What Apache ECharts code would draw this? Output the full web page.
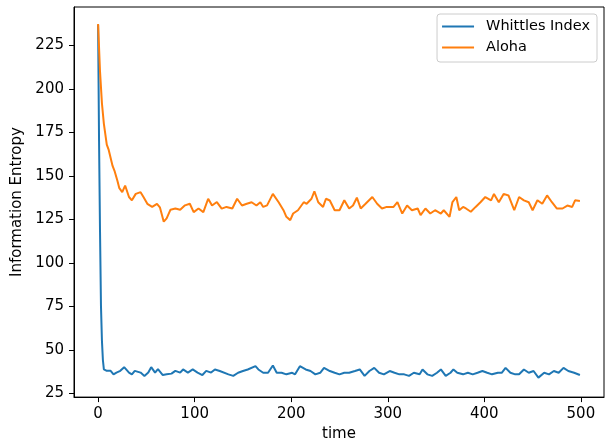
<!DOCTYPE html>
<html>
<head>
<meta charset="utf-8">
<script src="https://cdn.jsdelivr.net/npm/echarts@6/dist/echarts.min.js"></script>
<style>
html,body{margin:0;padding:0;background:#fff;}
#chart{width:611px;height:447px;}
</style>
</head>
<body>
<div id="chart"></div>
<script>
var xTicks = [0, 100, 200, 300, 400, 500];
var yTicks = [25, 50, 75, 100, 125, 150, 175, 200, 225];
var seriesNames = ["Whittles Index", "Aloha"];

var whittlesTime = [0,1,2,3,4,5,6,9,13,16,19,23,27,32,35,38,44,48,52,55,59,62,67,71,76,80,85,88,93,98,103,108,112,117,121,126,135,140,145,150,155,163,166,171,176,181,185,190,195,201,204,209,215,220,225,230,234,240,245,250,255,260,266,271,276,281,286,291,296,302,307,312,317,322,327,333,336,341,346,351,355,360,365,368,372,378,383,388,393,398,403,408,414,418,422,427,432,436,441,446,451,456,462,467,472,477,482,487,493,499];
var whittlesValue = [237,170,118,75,55,44,38.7,37.9,37.9,35.9,36.9,37.9,40,36.9,35.9,37.9,36.9,35,36.9,40,36.9,38.9,35.5,35.9,36.3,37.9,36.9,38.7,36.9,38.7,36.9,35.5,37.9,36.9,38.7,37.8,35.9,35,36.8,37.8,38.7,40.6,38.7,36.8,36.8,41,36.8,36.8,35.9,36.8,35.9,40.6,38.7,37.8,35.9,36.8,39.6,37.8,36.8,35.9,36.8,36.8,37.8,38.7,35,37.8,39.6,36.8,35.9,37.8,36.8,35.9,35.9,35,36.8,35.9,38.7,35.9,35,36.8,38.7,35,36.8,38.7,36.8,35.9,36.8,35.9,36.8,37.8,36.8,35.9,36.8,36.8,39.6,36.8,35.9,35.9,38.7,36.8,37.8,34,36.8,35.9,37.8,36.8,39.6,37.8,36.8,35.5];

var alohaTime = [0,2,4,6,9,11,15,17,20,22,25,28,32,35,39,44,47,51,56,61,64,68,71,75,80,85,90,95,99,104,109,111,114,116,118,120,123,128,133,139,144,149,154,159,164,168,171,175,181,187,192,195,199,202,207,213,216,221,224,228,233,236,240,245,250,255,260,264,268,272,277,284,289,294,299,306,310,315,320,325,331,334,339,344,349,355,358,364,367,371,374,378,381,386,391,396,401,407,410,415,420,425,431,436,441,446,450,455,460,465,470,475,481,486,491,494,499];
var alohaValue = [237.4,210,191.7,180,168,165,155.8,153,147.3,143,140.7,144.5,137.9,136,139.7,140.7,137.9,134,132.2,134,132,123.7,125.6,130.6,131.3,130.6,133.1,134,129.2,131.3,129.2,130.3,136.9,136.9,133,132.7,135,131.2,132.2,131.3,136.9,133,134,134.9,133,134.9,132.2,133.1,139.7,134.9,130.3,126.5,124.6,128.4,130.3,134.9,134,136.9,141.2,134.9,132.2,136.9,135.9,130.3,130.3,136,131.3,133,137.5,131.3,134,137.9,134,131.3,132.2,132.2,134.9,128.4,133,130.3,131.3,127.5,131.3,128.4,130.3,128.4,130.3,126.5,135,137.9,130.3,132.2,131.3,129.4,132.2,134.9,137.9,136,139.7,134.9,139.7,138.8,130.3,137.9,136,134.9,130.3,136,134,138.8,134.9,131.3,131.3,133,132.2,136,135.6];

function pairs(t, v) {
  var out = [];
  for (var i = 0; i < t.length; i++) out.push([t[i], v[i]]);
  return out;
}

var font = 'DejaVu Sans';
var fs = 15;
var chart = echarts.init(document.getElementById('chart'), null, {renderer: 'canvas'});
chart.setOption({
  animation: false,
  backgroundColor: '#ffffff',
  grid: {left: 74, right: 7, top: 7, bottom: 41, show: true, borderColor: '#000', borderWidth: 1, backgroundColor: 'transparent'},
  legend: {
    orient: 'vertical', right: 14, top: 14,
    data: seriesNames,
    icon: 'rect',
    itemWidth: 32, itemHeight: 2, itemGap: 6,
    padding: [5, 7, 7, 5],
    borderColor: '#cccccc', borderWidth: 1, borderRadius: 3,
    backgroundColor: 'rgba(255,255,255,0.8)',
    textStyle: {fontFamily: font, fontSize: 14.5, color: '#000', padding: [0, 0, 0, 7]}
  },
  xAxis: {
    type: 'value', min: -24.95, max: 523.95,
    name: 'time', nameLocation: 'middle', nameGap: 28,
    nameTextStyle: {fontFamily: font, fontSize: fs, color: '#000'},
    axisLine: {onZero: false, lineStyle: {color: '#000', width: 1}},
    axisTick: {show: true, length: 5, lineStyle: {color: '#000', width: 1}, customValues: xTicks},
    axisLabel: {fontFamily: font, fontSize: fs, color: '#000', margin: 10, customValues: xTicks},
    splitLine: {show: false}
  },
  yAxis: {
    type: 'value', min: 22.8, max: 247.2,
    name: 'Information Entropy', nameLocation: 'middle', nameGap: 40, nameRotate: 90,
    nameTextStyle: {fontFamily: font, fontSize: fs, color: '#000'},
    axisLine: {onZero: false, lineStyle: {color: '#000', width: 1}},
    axisTick: {show: true, length: 5, lineStyle: {color: '#000', width: 1}, customValues: yTicks},
    axisLabel: {fontFamily: font, fontSize: fs, color: '#000', margin: 10, customValues: yTicks},
    splitLine: {show: false}
  },
  series: [
    {name: seriesNames[0], type: 'line', data: pairs(whittlesTime, whittlesValue), showSymbol: false, symbol: 'none',
     lineStyle: {color: '#1f77b4', width: 2}, itemStyle: {color: '#1f77b4'}},
    {name: seriesNames[1], type: 'line', data: pairs(alohaTime, alohaValue), showSymbol: false, symbol: 'none',
     lineStyle: {color: '#ff7f0e', width: 2}, itemStyle: {color: '#ff7f0e'}}
  ]
});
</script>
</body>
</html>
